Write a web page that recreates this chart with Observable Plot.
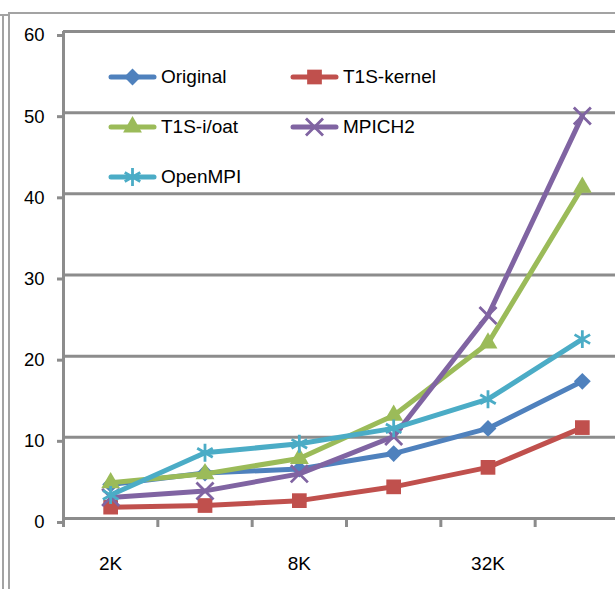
<!DOCTYPE html>
<html>
<head>
<meta charset="utf-8">
<script src="https://cdn.jsdelivr.net/npm/d3@7"></script>
<script src="https://cdn.jsdelivr.net/npm/@observablehq/plot@0.6"></script>
<style>
  html, body { margin: 0; padding: 0; background: #fff; overflow: hidden; }
  #wrap { position: relative; width: 615px; height: 589px; overflow: hidden; font-family: "Liberation Sans", Arial, sans-serif; }
  #chart { position: absolute; left: 0; top: 0; }
  .frame { position: absolute; background: #a3a3a3; }
  .item { position: absolute; display: flex; align-items: center; height: 24px; font-size: 19px; color: #000; white-space: nowrap; }
  .item svg { display: block; margin-right: 3px; }
</style>
</head>
<body>
<div id="wrap">
  <div id="chart"></div>
  <div id="legend"></div>
  <!-- outer and inner chart-area borders -->
  <div class="frame" style="left:2px; top:14px; width:2px; height:575px"></div>
  <div class="frame" style="left:0px; top:14px; width:8px; height:2px"></div>
  <div class="frame" style="left:8px; top:12px; width:2px; height:577px"></div>
  <div class="frame" style="left:8px; top:12px; width:607px; height:2px"></div>
</div>
<script>
// Message sizes on the x axis (only every other one is labelled)
const sizes = ["2K", "4K", "8K", "16K", "32K", "64K"];
const labeledSizes = ["2K", "8K", "32K"];
const yTicks = [0, 10, 20, 30, 40, 50, 60];

// Series
const seriesNames = ["Original", "T1S-kernel", "T1S-i/oat", "MPICH2", "OpenMPI"];
const seriesColors = ["#4F81BD", "#C0504D", "#9BBB59", "#8064A2", "#4BACC6"];
const seriesSymbols = ["diamond2", "square", "triangle", "times", "asterisk"];

const original = [4.2, 5.6, 6.1, 8.0, 11.1, 16.9];
const t1sKernel = [1.4, 1.6, 2.2, 3.9, 6.3, 11.2];
const t1sIoat = [4.4, 5.5, 7.4, 12.7, 21.6, 40.8];
const mpich2 = [2.6, 3.4, 5.5, 10.1, 25.0, 49.6];
const openmpi = [2.9, 8.1, 9.2, 11.1, 14.7, 22.1];

const seriesValues = [original, t1sKernel, t1sIoat, mpich2, openmpi];

const rows = seriesNames.flatMap((name, s) =>
  seriesValues[s].map((v, i) => ({series: name, i, size: sizes[i], value: v}))
);

// marker radius and whether the glyph is stroked rather than filled
const markerStyle = {
  diamond2: {r: 7.6, stroked: false},
  square: {r: 8.3, stroked: false},
  triangle: {r: 7, stroked: false},
  times: {r: 7.8, stroked: true},
  asterisk: {r: 8.5, stroked: true}
};

const gridColor = "#8c8c8c";

const seriesMarks = seriesNames.flatMap((name, s) => {
  const data = rows.filter(d => d.series === name);
  const sym = seriesSymbols[s];
  const st = markerStyle[sym];
  return [
    Plot.line(data, {x: "i", y: "value", stroke: seriesColors[s], strokeWidth: 5,
      strokeLinejoin: "round", strokeLinecap: "round"}),
    Plot.dot(data, st.stroked
      ? {x: "i", y: "value", symbol: () => sym, r: st.r, stroke: seriesColors[s], strokeWidth: 2.8, fill: "none"}
      : {x: "i", y: "value", symbol: () => sym, r: st.r, fill: seriesColors[s], stroke: "none"})
  ];
});

const chart = Plot.plot({
  width: 615,
  height: 589,
  marginLeft: 63,
  marginRight: 0,
  marginTop: 31,
  marginBottom: 71,
  style: {background: "transparent", maxWidth: "none", fontFamily: "'Liberation Sans', Arial, sans-serif", overflow: "hidden"},
  x: {type: "linear", domain: [-0.5, sizes.length - 0.5], range: [63, 629]},
  y: {domain: [0, 60]},
  symbol: {type: "identity"},
  marks: [
    Plot.gridY(yTicks, {stroke: gridColor, strokeOpacity: 1, strokeWidth: 3}),
    Plot.ruleX([-0.5], {y1: 0, y2: 60, stroke: gridColor, strokeWidth: 3}),
    Plot.axisY({ticks: yTicks, tickSize: 6, tickPadding: 13, fontSize: 18.5, dy: 4,
      stroke: gridColor, strokeWidth: 3, fill: "#000", label: null}),
    Plot.axisX({ticks: d3.range(-0.5, sizes.length, 1), tickSize: 9, tickFormat: () => "",
      stroke: gridColor, strokeWidth: 3, label: null}),
    Plot.axisX({ticks: labeledSizes.map(l => sizes.indexOf(l)), tickSize: 0, tickPadding: 38,
      tickFormat: i => sizes[i], fontSize: 19, fill: "#000", label: null}),
    ...seriesMarks
  ]
});
document.getElementById("chart").appendChild(chart);

// Legend placed inside the plotting area, two columns
const d3Symbols = {
  diamond2: d3.symbolDiamond2, square: d3.symbolSquare, triangle: d3.symbolTriangle,
  times: d3.symbolTimes, asterisk: d3.symbolAsterisk
};
const legend = document.getElementById("legend");
seriesNames.forEach((name, s) => {
  const col = s % 2, row = Math.floor(s / 2);
  const item = document.createElement("div");
  item.className = "item";
  item.style.left = (106 + col * 182) + "px";
  item.style.top = (65 + row * 50) + "px";
  const sym = seriesSymbols[s];
  const st = markerStyle[sym];
  const svg = d3.create("svg").attr("width", 52).attr("height", 24);
  svg.append("line").attr("x1", 5).attr("x2", 48).attr("y1", 12).attr("y2", 12)
    .attr("stroke", seriesColors[s]).attr("stroke-width", 5).attr("stroke-linecap", "round");
  const p = svg.append("path")
    .attr("transform", "translate(26.5,12)")
    .attr("d", d3.symbol(d3Symbols[sym], Math.PI * st.r * st.r)());
  if (st.stroked) p.attr("fill", "none").attr("stroke", seriesColors[s]).attr("stroke-width", 2.8);
  else p.attr("fill", seriesColors[s]);
  item.appendChild(svg.node());
  const label = document.createElement("span");
  label.textContent = name;
  item.appendChild(label);
  legend.appendChild(item);
});
</script>
</body>
</html>
